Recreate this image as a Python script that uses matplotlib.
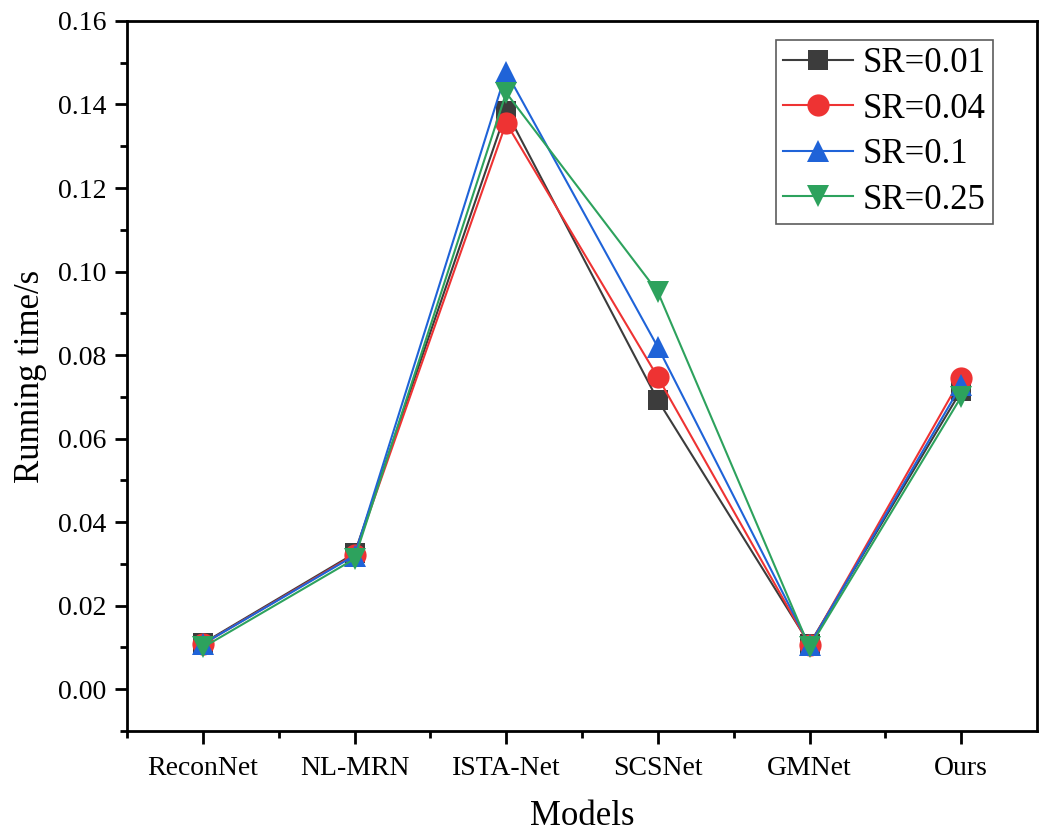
import matplotlib
matplotlib.use("Agg")
import matplotlib.pyplot as plt
from matplotlib.ticker import MultipleLocator, FixedLocator

models = ["ReconNet", "NL-MRN", "ISTA-Net", "SCSNet", "GMNet", "Ours"]
sr_001 = [0.0110, 0.0325, 0.1384, 0.0692, 0.0108, 0.0715]
sr_004 = [0.0108, 0.0322, 0.1356, 0.0747, 0.0105, 0.0745]
sr_010 = [0.0108, 0.0320, 0.1478, 0.0819, 0.0105, 0.0728]
sr_025 = [0.0100, 0.0312, 0.1428, 0.0951, 0.0100, 0.0700]

labels = ["SR=0.01", "SR=0.04", "SR=0.1", "SR=0.25"]
colors = ["#3c3c3c", "#ee3333", "#1f63d8", "#2da25d"]
markers = ["s", "o", "^", "v"]
sizes = [14, 16, 16, 16]

plt.rcParams['font.family'] = ['Liberation Serif', 'DejaVu Serif']

fig = plt.figure(figsize=(10.42, 8.32), dpi=100)
ax = fig.add_axes([0.1219, 0.1214, 0.8733, 0.8534])

x = list(range(1, len(models) + 1))
for ys, lab, c, m, s in zip([sr_001, sr_004, sr_010, sr_025], labels, colors, markers, sizes):
    ax.plot(x, ys, color=c, marker=m, markersize=s, linewidth=1.5, label=lab,
            markeredgewidth=0)

ax.set_xlim(0.5, 6.5)
ax.set_ylim(-0.01, 0.16)
ax.set_xticks(x)
ax.set_xticklabels(models)
ax.xaxis.set_minor_locator(FixedLocator([0.5, 1.5, 2.5, 3.5, 4.5, 5.5]))
ax.set_yticks([0.00, 0.02, 0.04, 0.06, 0.08, 0.10, 0.12, 0.14, 0.16])
ax.set_yticklabels(["0.00", "0.02", "0.04", "0.06", "0.08", "0.10", "0.12", "0.14", "0.16"])
ax.yaxis.set_minor_locator(MultipleLocator(0.01))

ax.tick_params(axis='both', which='major', direction='out', length=9, width=2,
               labelsize=20, pad=6)
ax.tick_params(axis='x', which='major', pad=9)
ax.tick_params(axis='both', which='minor', direction='out', length=5, width=2)
for sp in ax.spines.values():
    sp.set_linewidth(2)

ax.set_xlabel("Models", fontsize=25, labelpad=14)
ax.set_ylabel("Running time/s", fontsize=25, labelpad=8)

leg = ax.legend(loc='upper right', bbox_to_anchor=(0.9516, 0.973), fontsize=25,
                frameon=True, fancybox=False, edgecolor='#333333',
                handlelength=2.0, handletextpad=0.3, borderpad=0.2,
                labelspacing=0.36, borderaxespad=0.0)
leg.get_frame().set_linewidth(1.2)

fig.savefig("out.png", dpi=100)
